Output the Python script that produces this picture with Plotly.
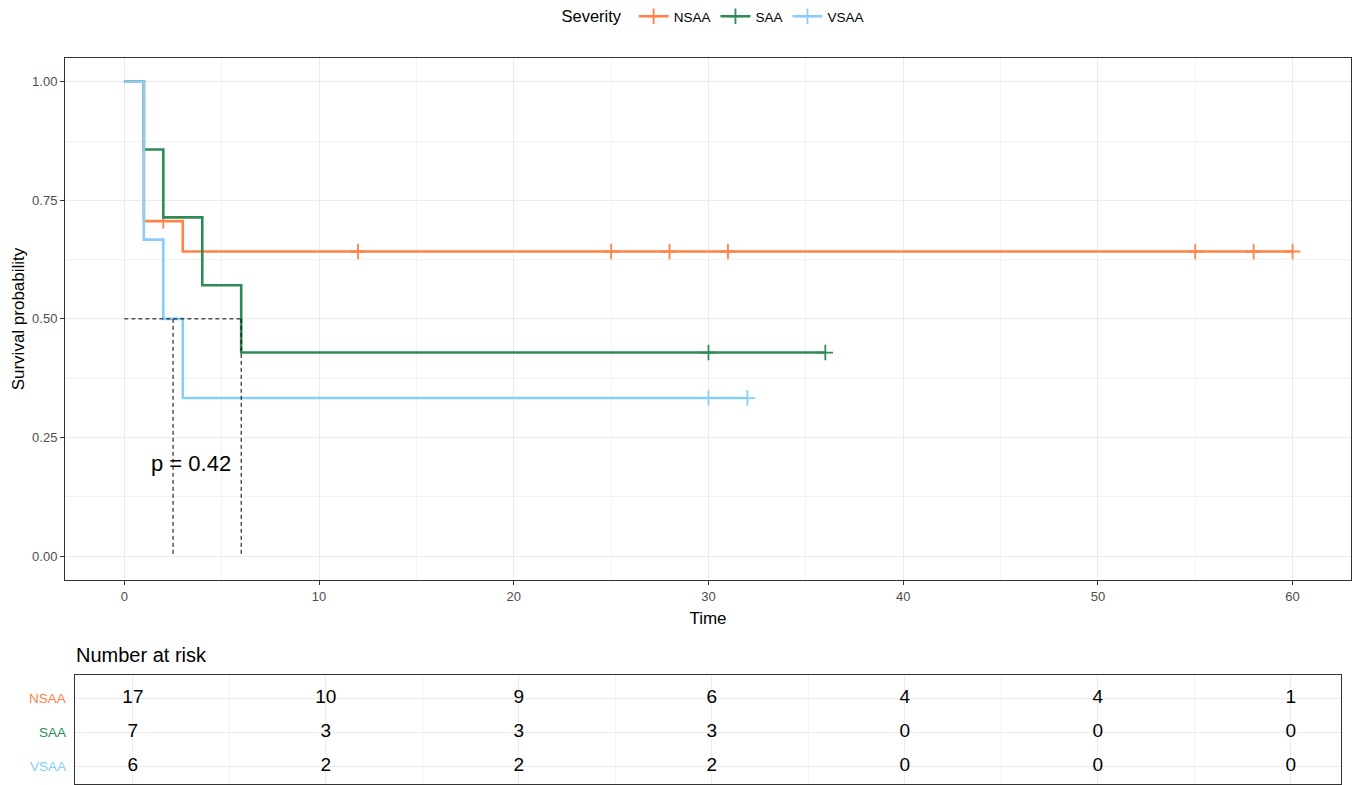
import plotly.graph_objects as go

# ---------------- data ----------------
groups = ["NSAA", "SAA", "VSAA"]
colors = {"NSAA": "#FF8247", "SAA": "#2E8B57", "VSAA": "#87CEFA"}

nsaa_time = [0, 1, 3, 60]
nsaa_surv = [1.0, 0.706, 0.642, 0.642]
saa_time = [0, 1, 2, 4, 6, 36]
saa_surv = [1.0, 0.857, 0.714, 0.571, 0.429, 0.429]
vsaa_time = [0, 1, 2, 3, 32]
vsaa_surv = [1.0, 0.667, 0.5, 0.333, 0.333]

nsaa_cens_time = [2, 12, 25, 28, 31, 55, 58, 60]
nsaa_cens_surv = [0.706, 0.642, 0.642, 0.642, 0.642, 0.642, 0.642, 0.642]
saa_cens_time = [30, 36]
saa_cens_surv = [0.429, 0.429]
vsaa_cens_time = [30, 32]
vsaa_cens_surv = [0.333, 0.333]

median_x = [0, 6, None, 2.5, 2.5, None, 6, 6]
median_y = [0.5, 0.5, None, 0.5, 0, None, 0.5, 0]

pval_text = "p = 0.42"

risk_times = [0, 10, 20, 30, 40, 50, 60]
risk_nsaa = [17, 10, 9, 6, 4, 4, 1]
risk_saa = [7, 3, 3, 3, 0, 0, 0]
risk_vsaa = [6, 2, 2, 2, 0, 0, 0]

x_ticks = [0, 10, 20, 30, 40, 50, 60]
y_ticks = [0, 0.25, 0.5, 0.75, 1.0]
y_ticklabels = ["0.00", "0.25", "0.50", "0.75", "1.00"]

curves = {
    "NSAA": (nsaa_time, nsaa_surv, nsaa_cens_time, nsaa_cens_surv),
    "SAA": (saa_time, saa_surv, saa_cens_time, saa_cens_surv),
    "VSAA": (vsaa_time, vsaa_surv, vsaa_cens_time, vsaa_cens_surv),
}
risks = {"NSAA": risk_nsaa, "SAA": risk_saa, "VSAA": risk_vsaa}

FONT = "Liberation Sans, Arial, sans-serif"
fig = go.Figure()


def cens_marker(c):
    return dict(symbol="cross-thin-open", size=11, color=c, line=dict(color=c, width=1.8))


for g in groups:
    t, s, ct, cs = curves[g]
    fig.add_trace(go.Scatter(x=t, y=s, mode="lines", line=dict(color=colors[g], width=2.6, shape="hv"),
                             showlegend=False, hoverinfo="skip", xaxis="x", yaxis="y"))
    fig.add_trace(go.Scatter(x=ct, y=cs, mode="markers", marker=cens_marker(colors[g]),
                             showlegend=False, hoverinfo="skip", xaxis="x", yaxis="y"))

for g in groups:
    fig.add_trace(go.Scatter(x=[None], y=[None], mode="lines+markers", name=g,
                             line=dict(color=colors[g], width=2.6),
                             marker=cens_marker(colors[g]),
                             xaxis="x", yaxis="y"))

fig.add_trace(go.Scatter(x=median_x, y=median_y, mode="lines",
                         line=dict(color="black", width=1, dash="4px,3px"),
                         showlegend=False, hoverinfo="skip", xaxis="x", yaxis="y"))

# risk table
for g in groups:
    fig.add_trace(go.Scatter(x=risk_times, y=[g] * len(risk_times), mode="text",
                             text=[str(v) for v in risks[g]],
                             textfont=dict(size=19, color="black", family=FONT),
                             showlegend=False, hoverinfo="skip", xaxis="x2", yaxis="y2"))

grid = "#EBEBEB"
border = "#333333"

fig.update_layout(
    width=1359, height=785,
    margin=dict(l=0, r=0, t=0, b=0),
    paper_bgcolor="white", plot_bgcolor="white",
    font=dict(family=FONT, color="black"),
    legend=dict(orientation="h", x=714 / 1359, xanchor="center", y=(785 - 17) / 785, yanchor="middle",
                title=dict(text="Severity ", font=dict(size=16.5)),
                font=dict(size=13.5), itemwidth=30),
    xaxis=dict(domain=[65 / 1359, 1351 / 1359], range=[-3.05, 63.0], anchor="y",
               tickvals=x_ticks, ticks="outside", ticklen=4, tickcolor=border,
               tickfont=dict(size=13, color="#4D4D4D"),
               showgrid=True, gridcolor=grid, gridwidth=1,
               minor=dict(dtick=5, tick0=5, showgrid=True, gridcolor="#F3F3F3", gridwidth=1, ticks=""),
               showline=True, linecolor=border, linewidth=1, mirror=True, zeroline=False,
               title=dict(text="Time", font=dict(size=17), standoff=9), automargin=False),
    yaxis=dict(domain=[(785 - 580) / 785, (785 - 58) / 785], range=[-0.0506, 1.05], anchor="x",
               tickvals=y_ticks, ticktext=y_ticklabels, ticks="outside", ticklen=4, tickcolor=border,
               tickfont=dict(size=13, color="#4D4D4D"),
               showgrid=True, gridcolor=grid, gridwidth=1,
               minor=dict(dtick=0.25, tick0=0.125, showgrid=True, gridcolor="#F3F3F3", gridwidth=1, ticks=""),
               showline=True, linecolor=border, linewidth=1, mirror=True, zeroline=False,
               title=dict(text="Survival probability", font=dict(size=17), standoff=3), automargin=False),
    xaxis2=dict(domain=[75 / 1359, 1341 / 1359], range=[-3, 62.6], anchor="y2",
                tickvals=x_ticks, showticklabels=False, ticks="",
                showgrid=True, gridcolor=grid, gridwidth=1,
                minor=dict(dtick=5, tick0=5, showgrid=True, gridcolor="#F3F3F3", gridwidth=1, ticks=""),
                showline=True, linecolor=border, linewidth=1, mirror=True, zeroline=False, automargin=False),
    yaxis2=dict(domain=[1 / 785, (785 - 675) / 785], range=[-0.52, 2.68], anchor="x2",
                categoryorder="array", categoryarray=["VSAA", "SAA", "NSAA"], type="category",
                showticklabels=False, ticks="",
                showgrid=True, gridcolor=grid, gridwidth=1,
                showline=True, linecolor=border, linewidth=1, mirror=True, zeroline=False, automargin=False),
    annotations=[
        dict(text=pval_text, x=1.25, y=0.196, xref="x", yref="y", xanchor="left", yanchor="middle",
             showarrow=False, font=dict(size=22, color="black")),
        dict(text="Number at risk", x=74 / 1359, y=(785 - 655) / 785, xref="paper", yref="paper",
             xanchor="left", yanchor="middle", showarrow=False, font=dict(size=20, color="black")),
    ] + [
        dict(text=g, x=68 / 1359, y=g, xref="paper", yref="y2", xanchor="right", yanchor="middle",
             showarrow=False, font=dict(size=13.5, color=colors[g])) for g in groups
    ],
)

fig.write_html("out.html")
